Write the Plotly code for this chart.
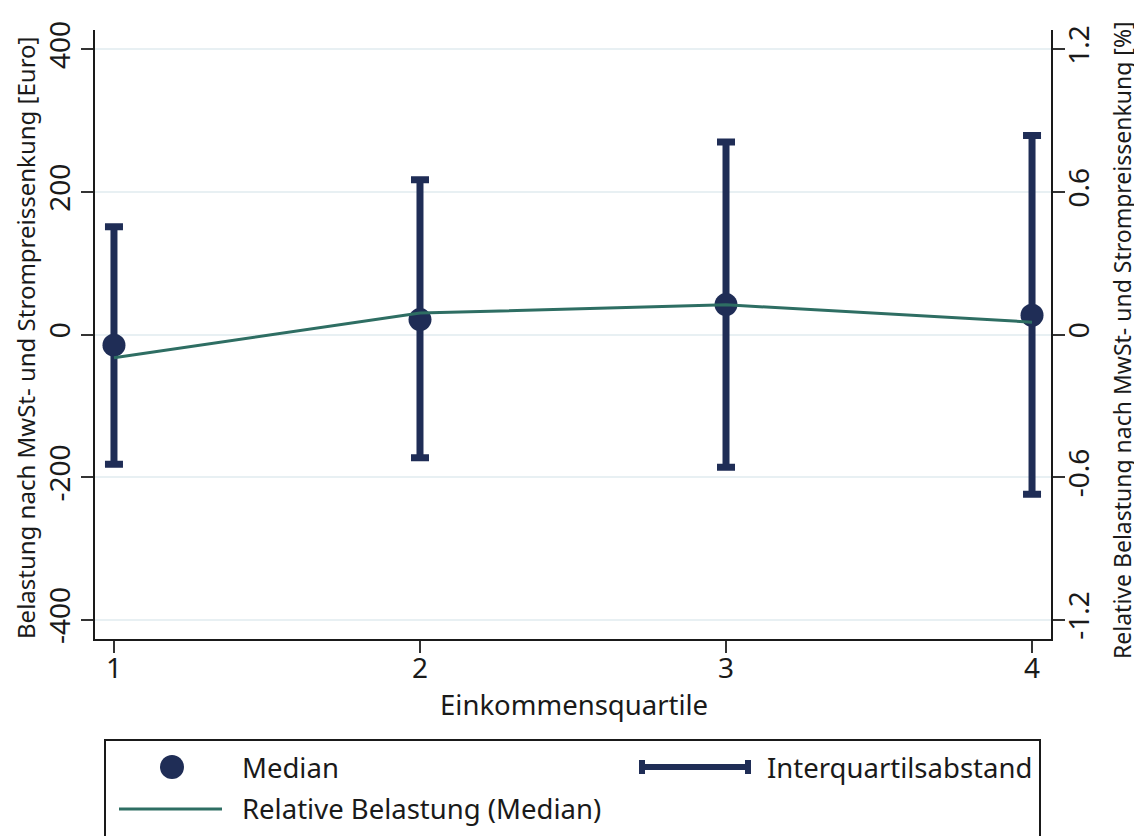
import plotly.graph_objects as go

# Einkommensquartile und Belastung (Euro)
quartile = [1, 2, 3, 4]
median_euro = [-15, 21, 42, 27]
p25_euro = [-182, -173, -186, -224]
p75_euro = [151, 217, 270, 279]
# relative Belastung (Median) in Prozent
rel_median = [-0.098, 0.09, 0.125, 0.052]

left_ticks = [-400, -200, 0, 200, 400]
left_ticklabels = ["-400", "-200", "0", "200", "400"]
right_ticks = [-1.2, -0.6, 0, 0.6, 1.2]
right_ticklabels = ["-1.2", "-0.6", "0", "0.6", "1.2"]

navy = "#1f2d56"
green = "#2e6e63"
grid = "#e8f0f3"
txt = "#1a1a1a"
FONT = "Noto Sans"

err_plus = [h - m for h, m in zip(p75_euro, median_euro)]
err_minus = [m - l for m, l in zip(median_euro, p25_euro)]

fig = go.Figure()
fig.add_trace(go.Scatter(
    x=quartile, y=median_euro, mode="markers",
    marker=dict(size=23, color=navy),
    error_y=dict(type="data", symmetric=False, array=err_plus,
                 arrayminus=err_minus, color=navy, thickness=7, width=9),
    showlegend=False))
fig.add_trace(go.Scatter(
    x=quartile, y=rel_median, mode="lines", yaxis="y2",
    line=dict(color=green, width=3), showlegend=False))

ax = dict(showline=True, linecolor=txt, linewidth=2, ticks="outside",
          ticklen=12, tickwidth=2, tickcolor="#333333", zeroline=False,
          automargin=False,
          tickfont=dict(size=28, color=txt, family=FONT))

# die Seite hat 8px Rand, daher Breite/Hoehe etwas kleiner
fig.update_layout(
    width=1134, height=828,
    margin=dict(l=87, r=91, t=22, b=197),
    paper_bgcolor="white", plot_bgcolor="white",
    font=dict(family=FONT, color=txt, size=26),
    xaxis=dict(ax, range=[0.938, 4.062], tickvals=quartile,
               showgrid=False, ticklabelstandoff=-9),
    yaxis=dict(ax, range=[-427, 427], tickvals=left_ticks,
               ticktext=left_ticklabels, tickangle=-90,
               ticklabelstandoff=0,
               showgrid=True, gridcolor=grid, gridwidth=2),
    yaxis2=dict(ax, range=[-1.281, 1.281], tickvals=right_ticks,
                ticktext=right_ticklabels, tickangle=-90, side="right",
                ticklabelstandoff=-10,
                overlaying="y", showgrid=False),
)

# Positionen in Bildschirmpixeln -> paper
def px(x):
    return (x - 95) / 956.0

def py(y):
    return (639 - y) / 609.0

# Achsentitel
fig.add_annotation(text="Belastung nach MwSt- und Strompreissenkung [Euro]",
                   xref="paper", yref="paper", x=px(25), y=py(338),
                   textangle=-90, showarrow=False,
                   xanchor="center", yanchor="middle",
                   font=dict(size=24, color=txt))
fig.add_annotation(text="Relative Belastung nach MwSt- und Strompreissenkung [%]",
                   xref="paper", yref="paper", x=px(1122), y=py(340),
                   textangle=-90, showarrow=False,
                   xanchor="center", yanchor="middle",
                   font=dict(size=23, color=txt))
fig.add_annotation(text="Einkommensquartile",
                   xref="paper", yref="paper", x=px(574), y=py(704),
                   showarrow=False, xanchor="center", yanchor="middle",
                   font=dict(size=27.5, color=txt))

# Legende im Stata-Stil
fig.add_shape(type="rect", xref="paper", yref="paper",
              x0=px(105), x1=px(1040), y0=py(860), y1=py(740),
              line=dict(color=txt, width=2), fillcolor="white")
fig.add_shape(type="circle", xref="paper", yref="paper",
              x0=px(160), x1=px(184), y0=py(779), y1=py(755),
              line=dict(width=0), fillcolor=navy)
fig.add_shape(type="line", xref="paper", yref="paper",
              x0=px(119), x1=px(222), y0=py(809), y1=py(809),
              line=dict(color=green, width=3))
fig.add_shape(type="line", xref="paper", yref="paper",
              x0=px(642), x1=px(748), y0=py(767), y1=py(767),
              line=dict(color=navy, width=6))
for xc in (642, 748):
    fig.add_shape(type="line", xref="paper", yref="paper",
                  x0=px(xc), x1=px(xc), y0=py(760), y1=py(774),
                  line=dict(color=navy, width=6))

for text, x0, y0 in [("Median", 240, 767),
                     ("Interquartilsabstand", 765, 767),
                     ("Relative Belastung (Median)", 240, 808)]:
    fig.add_annotation(text=text, xref="paper", yref="paper",
                       x=px(x0), y=py(y0), xanchor="left", yanchor="middle",
                       showarrow=False, font=dict(size=27.5, color=txt))

fig.write_html("out.html")
